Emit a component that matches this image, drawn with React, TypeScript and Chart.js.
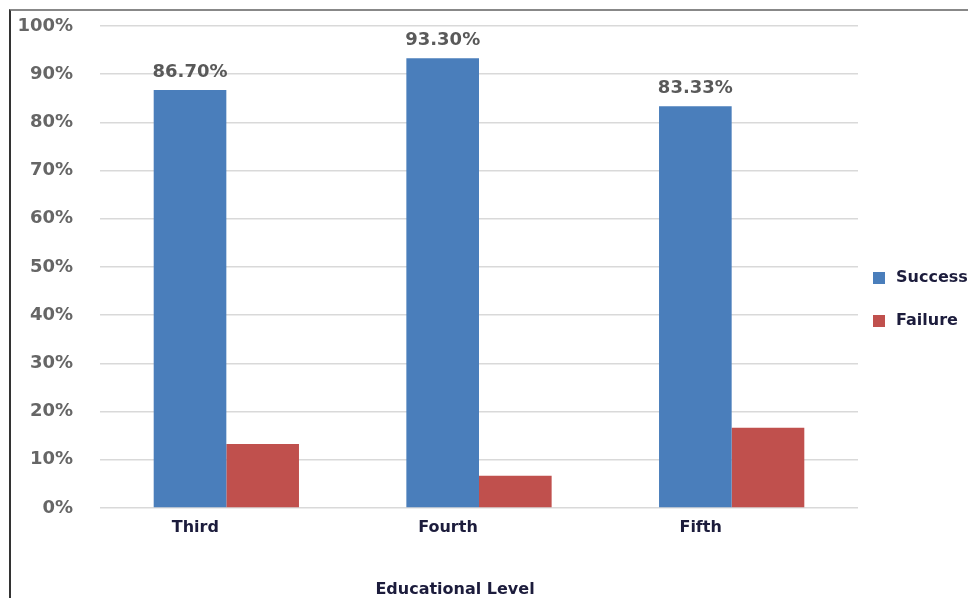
import React, { useEffect, useRef } from "react";
import { Chart, registerables } from "chart.js";

Chart.register(...registerables);

const categories = ["Third", "Fourth", "Fifth"];
const successValues = [86.7, 93.3, 83.33];
const failureValues = [13.3, 6.7, 16.67];
const seriesNames = ["Success", "Failure"];
const successLabels = ["86.70%", "93.30%", "83.33%"];
const xAxisTitle = "Educational Level";

const BLUE = "#4a7ebb";
const RED = "#c0504d";
const FONT = "'DejaVu Sans', sans-serif";

export default function App() {
  const ref = useRef<HTMLCanvasElement | null>(null);

  useEffect(() => {
    const canvas = ref.current;
    if (!canvas) return;

    const extras = {
      id: "extras",
      afterDatasetsDraw(chart: any) {
        const ctx = chart.ctx;
        const meta = chart.getDatasetMeta(0);
        ctx.save();
        ctx.font = `bold 18px ${FONT}`;
        ctx.fillStyle = "#595959";
        ctx.textAlign = "center";
        ctx.textBaseline = "alphabetic";
        meta.data.forEach((bar: any, i: number) => {
          ctx.fillText(successLabels[i], bar.x, bar.y - 13);
        });
        ctx.restore();
      },
      afterDraw(chart: any) {
        const ctx = chart.ctx;
        const area = chart.chartArea;
        ctx.save();
        const colors = [BLUE, RED];
        const ys = [278, 321];
        ctx.font = `bold 16px ${FONT}`;
        ctx.textBaseline = "middle";
        ctx.textAlign = "left";
        seriesNames.forEach((name, i) => {
          ctx.fillStyle = colors[i];
          ctx.fillRect(area.right + 15, ys[i] - 6, 12, 12);
          ctx.fillStyle = "#1c1c3c";
          ctx.fillText(name, area.right + 38, ys[i]);
        });
        ctx.textAlign = "center";
        ctx.fillStyle = "#1c1c3c";
        ctx.fillText(xAxisTitle, area.left + (area.right - area.left) / 2 - 24, 590);
        ctx.restore();
      },
    };

    const chart = new Chart(canvas, {
      type: "bar",
      data: {
        labels: categories,
        datasets: [
          {
            label: seriesNames[0],
            data: successValues,
            backgroundColor: BLUE,
            barPercentage: 1,
            categoryPercentage: 0.575,
          },
          {
            label: seriesNames[1],
            data: failureValues,
            backgroundColor: RED,
            barPercentage: 1,
            categoryPercentage: 0.575,
          },
        ],
      },
      options: {
        responsive: false,
        animation: false,
        devicePixelRatio: 1,
        layout: { autoPadding: false, padding: { left: 12, right: 110, top: 26, bottom: 0 } },
        plugins: {
          legend: { display: false },
          tooltip: { enabled: false },
        },
        scales: {
          x: {
            grid: { display: false, drawTicks: false },
            border: { display: false },
            ticks: {
              font: { family: FONT, size: 16, weight: "bold" },
              color: "#1c1c3c",
              padding: 10,
              labelOffset: -31,
            },
            afterFit: (s: any) => {
              s.height = 90;
              s.paddingLeft = 0;
              s.paddingRight = 0;
            },
          },
          y: {
            min: 0,
            max: 100,
            grid: { color: "#d9d9d9", lineWidth: 1.5, drawTicks: false },
            border: { display: false },
            ticks: {
              stepSize: 10,
              padding: 27,
              font: { family: FONT, size: 18, weight: "bold" },
              color: "#666666",
              callback: (v: any) => `${v}%`,
            },
            afterFit: (s: any) => {
              s.width = 88;
              s.paddingTop = 0;
              s.paddingBottom = 0;
            },
          },
        },
      },
      plugins: [extras],
    });

    return () => chart.destroy();
  }, []);

  return (
    <div style={{ position: "fixed", left: 0, top: 0, width: 968, height: 598, background: "#fff" }}>
      <canvas ref={ref} width={968} height={598} style={{ position: "absolute", left: 0, top: 0 }} />
      <div
        style={{
          position: "absolute",
          left: 9,
          top: 9,
          width: 959,
          height: 589,
          borderLeft: "2px solid #333",
          borderTop: "2px solid #888",
          boxSizing: "border-box",
          pointerEvents: "none",
        }}
      />
    </div>
  );
}
